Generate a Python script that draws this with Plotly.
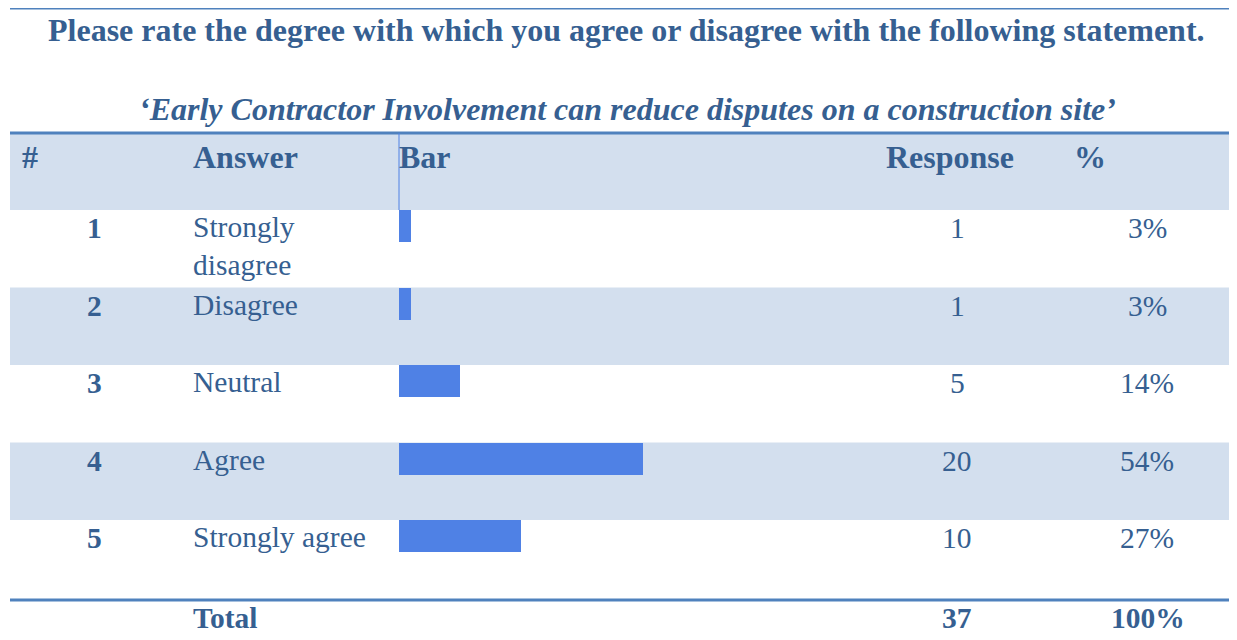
import plotly.graph_objects as go

# Survey data
row_numbers = ['1', '2', '3', '4', '5']
answers = ['Strongly<br>disagree', 'Disagree', 'Neutral', 'Agree', 'Strongly agree']
responses = [1, 1, 5, 20, 10]
percents = ['3%', '3%', '14%', '54%', '27%']
total_label = 'Total'
total_response = '37'
total_percent = '100%'

title = 'Please rate the degree with which you agree or disagree with the following statement.'
subtitle = '\u2018Early Contractor Involvement can reduce disputes on a construction site\u2019'
headers = ['#', 'Answer', 'Bar', 'Response', '%']

# colours
TEXT = '#365F91'
BAND = '#D3DFEE'
LINE = '#4F81BD'
BAR = '#4F81E5'
FONT = 'Liberation Serif, Times New Roman, serif'

W, H = 1237, 640
OFF = 8  # page body margin, so axis units equal screen pixels
ROW_TOP = 210
ROW_H = 77.5
BAR_X0 = 399
PX_PER_UNIT = 12.2

row_tops = [ROW_TOP + i * ROW_H for i in range(len(answers))]

fig = go.Figure()

# the bars live on their own x axis that starts at the "Bar" column
fig.add_trace(go.Bar(
    x=responses,
    y=[t + 16 for t in row_tops],
    width=32,
    orientation='h',
    marker=dict(color=BAR, line=dict(width=0)),
    xaxis='x2',
    yaxis='y',
    hoverinfo='x',
    showlegend=False,
))

shapes = []
# top rule
shapes.append(dict(type='line', x0=10, x1=W, y0=8, y1=8, line=dict(color=LINE, width=3)))
# header band + rule above it
shapes.append(dict(type='rect', x0=10, x1=W, y0=133, y1=ROW_TOP, fillcolor=BAND, line=dict(width=0), layer='below'))
shapes.append(dict(type='line', x0=10, x1=W, y0=133, y1=133, line=dict(color=LINE, width=3)))
shapes.append(dict(type='line', x0=BAR_X0, x1=BAR_X0, y0=133, y1=ROW_TOP, line=dict(color=BAR, width=1)))
# alternating row bands
for i, t in enumerate(row_tops):
    if i % 2 == 1:
        shapes.append(dict(type='rect', x0=10, x1=W, y0=t, y1=t + ROW_H, fillcolor=BAND,
                           line=dict(width=0), layer='below'))
# rule above total
shapes.append(dict(type='line', x0=10, x1=W, y0=600, y1=600, line=dict(color=LINE, width=3)))

ann = []


def txt(x, y, s, size=29.5, bold=False, xanchor='left', yanchor='middle', italic=False):
    if bold:
        s = '<b>' + s + '</b>'
    if italic:
        s = '<i>' + s + '</i>'
    if xanchor == 'left':
        x -= 3  # annotation box padding
    ann.append(dict(x=x, y=y, xref='x', yref='y', text=s, showarrow=False,
                    xanchor=xanchor, yanchor=yanchor, align='left',
                    font=dict(family=FONT, size=size, color=TEXT)))


txt(626, 30, title, size=32, bold=True, xanchor='center')
txt(627, 109, subtitle, size=32, bold=True, italic=True, xanchor='center')

header_x = [23, 194, 400, 887, 1075]
for x, h in zip(header_x, headers):
    txt(x, 157, h, size=32, bold=True)

for t, num, a, r, p in zip(row_tops, row_numbers, answers, responses, percents):
    txt(94, t + 18, num, bold=True, xanchor='center')
    txt(194, t - 1, a, yanchor='top')
    txt(957, t + 18, str(r), xanchor='center')
    txt(1147, t + 18, p, xanchor='center')

txt(194, 618, total_label, bold=True)
txt(957, 618, total_response, bold=True, xanchor='center')
txt(1148, 618, total_percent, bold=True, xanchor='center')

fig.update_layout(
    width=W - OFF, height=H - OFF, autosize=False,
    margin=dict(l=0, r=0, t=0, b=0),
    paper_bgcolor='white', plot_bgcolor='rgba(0,0,0,0)',
    xaxis=dict(range=[OFF, W], visible=False, domain=[0, 1], fixedrange=True),
    xaxis2=dict(range=[0, (W - BAR_X0) / PX_PER_UNIT], domain=[(BAR_X0 - OFF) / (W - OFF), 1],
                anchor='y', visible=False, fixedrange=True),
    yaxis=dict(range=[H, OFF], visible=False, fixedrange=True),
    shapes=shapes,
    annotations=ann,
    bargap=0,
)

fig.write_html('out.html')
